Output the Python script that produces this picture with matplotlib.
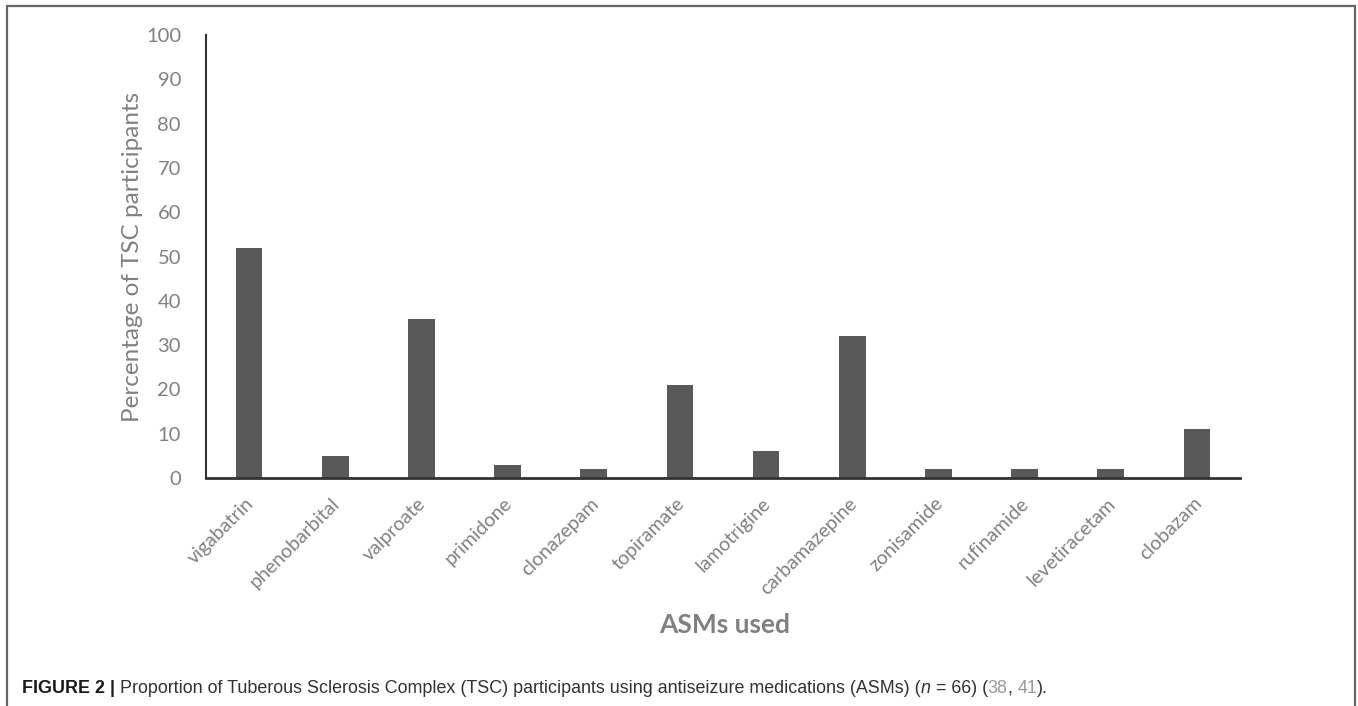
import numpy as np
import matplotlib.pyplot as plt
from matplotlib.patches import Rectangle

drugs = ["vigabatrin", "phenobarbital", "valproate", "primidone", "clonazepam",
         "topiramate", "lamotrigine", "carbamazepine", "zonisamide", "rufinamide",
         "levetiracetam", "clobazam"]
percent = [52, 5, 36, 3, 2, 21, 6, 32, 2, 2, 2, 11]
yticks = list(range(0, 101, 10))

W, H = 1358, 706
fig = plt.figure(figsize=(W / 100, H / 100), dpi=100)

# frame round the figure panel (open at the bottom)
box = Rectangle((7 / W, -0.05), (1355 - 7) / W, 1.05 - 6 / H, transform=fig.transFigure,
                fill=False, edgecolor="#666666", linewidth=1.6, clip_on=False)
fig.patches.append(box)

ax = fig.add_axes([206 / W, 228 / H, 1034 / W, 443 / H])
x = np.arange(len(drugs))
ax.bar(x, percent, width=0.31, color="#595959")
ax.set_xlim(-0.5, len(drugs) - 0.5)
ax.set_ylim(0, 100)
ax.set_yticks(yticks)
# ticks are invisible, so nudge them right to place the slanted labels
ax.set_xticks(x + 0.09)
ax.set_xticklabels(drugs, rotation=45, ha="right", va="top", fontsize=14,
                   color="#808080", family="Lato")
for lab in ax.get_yticklabels():
    lab.set_family("Lato")
ax.tick_params(axis="y", length=0, pad=18, labelsize=14.5, labelcolor="#808080")
ax.tick_params(axis="x", length=0, pad=12)
for s in ["top", "right"]:
    ax.spines[s].set_visible(False)
ax.spines["left"].set_color("#333333")
ax.spines["bottom"].set_color("#333333")
ax.spines["left"].set_linewidth(1.5)
ax.spines["bottom"].set_linewidth(2)

ax.set_ylabel("Percentage of TSC participants", fontsize=17.5, color="#808080",
              family="Lato", labelpad=2)
fig.text(725 / W, 1 - 625 / H, "ASMs used", ha="center", va="center",
         fontsize=19, fontweight="bold", color="#808080", family="Lato")

# caption, pieced together so each part keeps its own style
parts = [
    ("FIGURE 2 | ", dict(fontweight="bold", color="#1a1a1a")),
    ("Proportion of Tuberous Sclerosis Complex (TSC) participants using antiseizure medications (ASMs) (",
     dict(color="#333333")),
    ("n", dict(color="#333333", style="italic")),
    (" = 66) (", dict(color="#333333")),
    ("38", dict(color="#9a9a9a")),
    (", ", dict(color="#333333")),
    ("41", dict(color="#9a9a9a")),
    (").", dict(color="#333333")),
]
cap_size = 12.9
prev = fig.text(22 / W, 1 - 693 / H, parts[0][0], fontsize=cap_size, va="baseline",
                family="Liberation Sans", **parts[0][1])
for txt, style in parts[1:]:
    prev = ax.annotate(txt, xy=(1, 0), xycoords=prev, va="bottom", ha="left",
                       fontsize=cap_size, family="Liberation Sans",
                       annotation_clip=False, **style)

fig.savefig("out.png", dpi=100)
